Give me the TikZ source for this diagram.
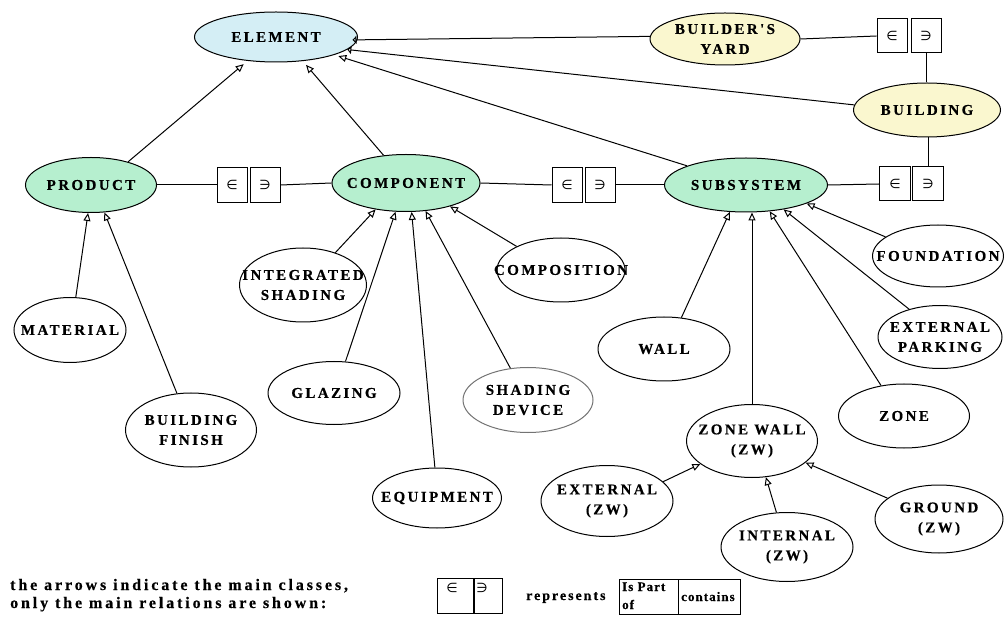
\documentclass[tikz,border=0pt]{standalone}
\usepackage{fontspec}
\usetikzlibrary{shapes.geometric,arrows.meta,calc}
\newfontfamily\labfont[LetterSpace=16,BoldFeatures={FakeBold=0.4}]{Liberation Serif}
\newfontfamily\legfont[LetterSpace=18,BoldFeatures={FakeBold=0.4}]{Liberation Serif}
\newfontfamily\midfont[LetterSpace=14,BoldFeatures={FakeBold=0.4}]{Liberation Serif}
\newfontfamily\smallfont[LetterSpace=8,BoldFeatures={FakeBold=0.3}]{Liberation Serif}
\newfontfamily\symfont{DejaVu Sans}
\definecolor{elefill}{HTML}{D4EEF5}
\definecolor{yelfill}{HTML}{FAF7CF}
\definecolor{grnfill}{HTML}{B6EFCF}
\tikzset{
 oval/.style={ellipse, draw=black, line width=1pt, inner sep=0pt},
 lab/.style={font=\labfont\bfseries\fontsize{15}{20}\selectfont, align=center, inner sep=0pt},
 relbox/.style={draw, line width=1pt, minimum width=30pt, minimum height=34pt, inner sep=0pt, font=\symfont\fontsize{13}{13}\selectfont},
 isa/.style={line width=1pt, -{Triangle[open, length=8pt, width=7pt]}},
 isasmall/.style={line width=1pt, -{Triangle[open, length=4pt, width=8pt]}},
 link/.style={line width=1pt},
 leg/.style={font=\legfont\bfseries\fontsize{16}{18}\selectfont, inner sep=0pt},
 legmid/.style={font=\midfont\bfseries\fontsize{14}{18}\selectfont, inner sep=0pt},
 legsmall/.style={font=\smallfont\bfseries\fontsize{13}{13}\selectfont, inner sep=0pt},
}
\newcommand\ovalnode[6][]{\node[oval,#1,minimum width=#4pt,minimum height=#5pt] (#2) at (#3) {};\node[lab] (#2t) at (#2) {#6};}
\begin{document}
\begin{tikzpicture}[x=1pt,y=-1pt]
\useasboundingbox (0,0) rectangle (1004,617);
\fill[white] (0,0) rectangle (1004,617);
% top
\ovalnode[fill=elefill]{ele}{276,37}{163}{50}{ELEMENT}
\ovalnode[fill=yelfill]{yard}{725,39}{150}{52}{BUILDER'S\\YARD}
\ovalnode[fill=yelfill]{bldg}{927,110}{147}{54}{BUILDING}
% main row
\ovalnode[fill=grnfill]{prod}{91,185}{131}{55}{PRODUCT}
\ovalnode[fill=grnfill]{comp}{406,183}{148}{57}{COMPONENT}
\ovalnode[fill=grnfill]{sub}{746,185}{163}{54}{SUBSYSTEM}
% children
\ovalnode{integ}{303,285}{127}{74}{INTEGRATED\\SHADING}
\ovalnode{compo}{561,270}{128}{64}{COMPOSITION}
\ovalnode{glaz}{334,393}{132}{63}{GLAZING}
\ovalnode[draw=black!55]{shad}{528,400}{130}{65}{SHADING\\DEVICE}
\ovalnode{equip}{437,498}{129}{60}{EQUIPMENT}
\ovalnode{mat}{70,330}{112}{65}{MATERIAL}
\ovalnode{fin}{191,430}{131}{74}{BUILDING\\FINISH}
\ovalnode{wall}{664,349}{132}{64}{WALL}
\ovalnode{found}{938,256}{131}{62}{FOUNDATION}
\ovalnode{park}{940,337}{124}{63}{EXTERNAL\\PARKING}
\ovalnode{zone}{904,416}{131}{64}{ZONE}
\ovalnode{zw}{752,441}{131}{73}{ZONE WALL\\(ZW)}
\ovalnode{extzw}{607,501}{132}{71}{EXTERNAL\\(ZW)}
\ovalnode{intzw}{787,547}{132}{69}{INTERNAL\\(ZW)}
\ovalnode{grzw}{939,519}{128}{68}{GROUND\\(ZW)}
% relation boxes
\node[relbox] (b1l) at (892,36) {∈};
\node[relbox] (b1r) at (926,36) {∋};
\node[relbox,minimum height=35pt] (b2l) at (232,185) {∈};
\node[relbox,minimum height=35pt] (b2r) at (265,185) {∋};
\node[relbox,minimum height=35pt] (b3l) at (567,185) {∈};
\node[relbox,minimum height=35pt] (b3r) at (600,185) {∋};
\node[relbox,minimum width=31pt] (b4l) at (895,184) {∈};
\node[relbox,minimum width=31pt] (b4r) at (928,184) {∋};
% relation links
\draw[link] (yard.east) -- (b1l.west);
\draw[link] (b1r.south) -- (b1r.south |- bldg.north);
\draw[link] (prod.east) -- (b2l.west);
\draw[link] (b2r.east) -- (comp.west);
\draw[link] (comp.east) -- (b3l.west);
\draw[link] (b3r.east) -- (sub.west);
\draw[link] (sub.east) -- (b4l.west);
\draw[link] (b4r.north) -- (b4r.north |- bldg.south);
% inheritance to ELEMENT
\draw[isa, shorten >=5pt] (prod.32) -- (ele.220);
\draw[isa, shorten >=5pt] (comp.129) -- (ele.318);
\draw[isa, shorten >=4pt] (sub.162) -- (ele.-17);
\draw[isasmall, shorten >=-5pt] (yard.178) -- (ele.-2);
\draw[isasmall] (bldg.176) -- (ele.-10);
% to PRODUCT
\draw[isa] (mat.80) -- (prod.264);
\draw[isa] (fin.111) -- (prod.296);
% to COMPONENT
\draw[isa] (integ.45) -- (comp.221);
\draw[isa] (glaz.70) -- (comp.250);
\draw[isa] (equip.94) -- (comp.281);
\draw[isa] (shad.119) -- (comp.305);
\draw[isa] (compo.152) -- (comp.332);
% to SUBSYSTEM
\draw[isa] (wall.61) -- (sub.239);
\draw[isa] (zw.north) -- (zw.north |- sub.south);
\draw[isa] (zone.127) -- (sub.312);
\draw[isa] (park.138) -- (sub.327);
\draw[isa] (found.160) -- (sub.343);
% to ZONE WALL
\draw[isa] (extzw.19) -- (zw.204);
\draw[isa] (intzw.107) -- (zw.291);
\draw[isa] (grzw.158) -- (zw.338);
% legend
\node[leg, anchor=base west] (leg1) at (10,590) {the arrows indicate the main classes,};
\node[leg, anchor=base west] (leg2) at (10,608) {only the main relations are shown:};
\node[draw, line width=1pt, minimum width=36pt, minimum height=35pt, inner sep=0pt] (lgl) at (455,596) {};
\node[draw, line width=1pt, minimum width=29pt, minimum height=35pt, inner sep=0pt] (lgr) at (487.5,596) {};
\draw[line width=2pt] (lgl.north east) -- (lgl.south east);
\node[font=\symfont\fontsize{13}{13}\selectfont, inner sep=0pt] (lgls) at (452,588) {∈};
\node[font=\symfont\fontsize{13}{13}\selectfont, inner sep=0pt] (lgrs) at (482,588) {∋};
\node[legmid, anchor=base west] (repr) at (526,600) {represents};
\node[legsmall, anchor=base west] (ip1) at (622,591) {Is Part};
\node[legsmall, anchor=base west] (ip2) at (622,609) {of};
\node[legsmall, anchor=base west] (cont) at (681,601) {contains};
\node[draw, line width=1pt, minimum width=59pt, minimum height=35pt, inner sep=0pt] (ipbox) at (648.5,596.5) {};
\node[draw, line width=1pt, minimum width=62pt, minimum height=35pt, inner sep=0pt] (cbox) at (709,596.5) {};
\end{tikzpicture}
\end{document}
